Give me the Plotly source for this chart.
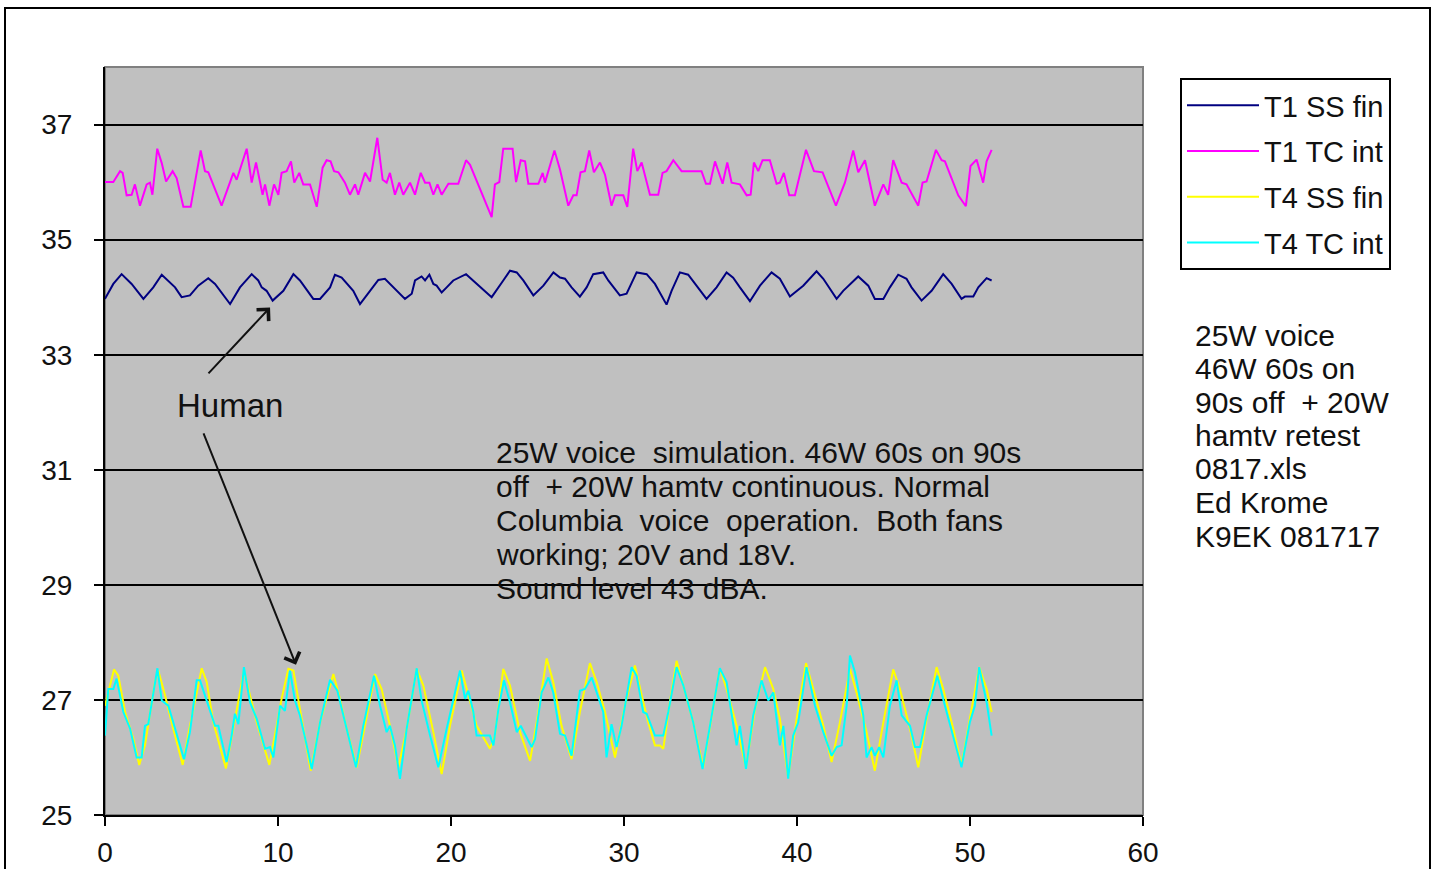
import plotly.graph_objects as go

# ---------------- data ----------------
t1_tc_x = [0.00, 0.48, 0.87, 1.02, 1.25, 1.54, 1.73, 2.02, 2.41, 2.60, 2.74, 3.02, 3.28, 3.53, 3.91, 4.14,
           4.53, 4.95, 5.53, 5.78, 5.97, 6.74, 7.42, 7.61, 8.19, 8.48, 8.73, 9.11, 9.25, 9.50, 9.77, 10.02,
           10.21, 10.50, 10.75, 10.94, 11.23, 11.46, 11.85, 12.24, 12.58, 12.81, 13.04, 13.24, 13.49, 13.87,
           14.16, 14.45, 14.64, 15.03, 15.32, 15.74, 16.05, 16.28, 16.47, 16.76, 17.01, 17.24, 17.63, 17.92,
           18.25, 18.50, 18.75, 18.98, 19.22, 19.46, 19.85, 20.42, 20.87, 21.10, 22.35, 22.54, 22.79, 23.02,
           23.56, 23.76, 24.03, 24.28, 24.47, 25.05, 25.30, 25.43, 25.98, 26.30, 26.78, 27.07, 27.26, 27.49,
           27.74, 27.99, 28.26, 28.61, 28.90, 29.28, 29.48, 29.96, 30.19, 30.53, 30.77, 31.02, 31.50, 31.98,
           32.23, 32.46, 32.85, 33.33, 34.48, 34.74, 34.97, 35.26, 35.70, 35.97, 36.22, 36.70, 37.09, 37.32,
           37.51, 37.76, 38.01, 38.43, 38.82, 39.01, 39.24, 39.55, 39.88, 40.52, 40.98, 41.48, 42.25, 42.77,
           43.25, 43.54, 43.93, 44.50, 44.99, 45.27, 45.56, 46.05, 46.33, 46.68, 47.01, 47.26, 47.49, 48.03,
           48.36, 48.55, 49.32, 49.76, 50.03, 50.38, 50.76, 50.96, 51.25]
t1_tc_y = [36.00, 36.00, 36.19, 36.16, 35.77, 35.78, 35.96, 35.59, 35.96, 35.99, 35.78, 36.58, 36.33, 36.01, 36.19, 36.07,
           35.57, 35.57, 36.55, 36.19, 36.17, 35.59, 36.16, 36.04, 36.58, 35.99, 36.34, 35.78, 35.96, 35.59, 35.96, 35.78,
           36.16, 36.19, 36.36, 35.99, 36.16, 35.96, 35.96, 35.57, 36.25, 36.38, 36.36, 36.19, 36.17, 35.99,
           35.78, 35.96, 35.78, 36.16, 36.01, 36.77, 36.04, 35.99, 36.16, 35.78, 35.99, 35.78, 35.99, 35.78,
           36.16, 35.99, 35.99, 35.78, 35.96, 35.78, 35.97, 35.97, 36.38, 36.30, 35.39, 35.96, 36.00, 36.58,
           36.58, 36.00, 36.38, 36.36, 35.97, 35.97, 36.16, 35.99, 36.55, 36.22, 35.59, 35.77, 35.77, 36.17,
           36.19, 36.55, 36.17, 36.34, 36.13, 35.59, 35.77, 35.77, 35.57, 36.58, 36.19, 36.34, 35.78, 35.78,
           36.16, 36.19, 36.38, 36.19, 36.19, 35.97, 35.97, 36.36, 35.97, 36.34, 35.99, 35.96, 35.77, 35.78,
           36.34, 36.19, 36.38, 36.38, 35.97, 35.99, 36.16, 35.77, 35.77, 36.56, 36.19, 36.17, 35.59, 35.99,
           36.55, 36.17, 36.38, 35.59, 35.96, 35.78, 36.38, 35.99, 35.96, 35.77, 35.59, 35.99, 36.01, 36.56,
           36.38, 36.36, 35.77, 35.58, 36.28, 36.39, 35.99, 36.36, 36.56]

t1_ss_x = [0.00, 0.48, 0.96, 1.54, 2.22, 2.79, 3.28, 3.66, 4.05, 4.43, 4.91, 5.39, 5.97, 6.36, 7.23, 7.80,
           8.48, 8.86, 9.06, 9.34, 9.69, 10.31, 10.89, 11.27, 12.04, 12.43, 13.01, 13.29, 13.68, 14.35, 14.74,
           15.32, 15.80, 16.18, 16.67, 17.34, 17.73, 17.92, 18.30, 18.50, 18.75, 18.98, 19.17, 19.46, 19.75,
           20.13, 20.87, 21.29, 22.35, 23.02, 23.41, 23.80, 24.18, 24.76, 25.34, 25.92, 26.30, 26.59, 26.97,
           27.45, 27.84, 28.22, 28.80, 29.09, 29.76, 30.15, 30.73, 31.31, 31.79, 32.46, 32.75, 33.23, 33.71,
           34.77, 35.35, 35.93, 36.31, 36.70, 37.28, 37.86, 38.53, 39.01, 39.59, 40.36, 41.13, 41.52, 42.29,
           42.67, 43.06, 43.54, 44.12, 44.50, 44.99, 45.37, 45.85, 46.33, 46.62, 47.20, 47.78, 48.45, 48.94,
           49.51, 49.71, 50.19, 50.48, 50.96, 51.25]
t1_ss_y = [33.97, 34.23, 34.40, 34.23, 33.97, 34.17, 34.39, 34.29, 34.17, 34.00, 34.03, 34.20, 34.33, 34.23, 33.88, 34.17,
           34.40, 34.29, 34.17, 34.11, 33.94, 34.11, 34.40, 34.29, 33.97, 33.97, 34.17, 34.39, 34.34, 34.11, 33.88,
           34.11, 34.30, 34.32, 34.17, 33.97, 34.06, 34.29, 34.36, 34.29, 34.39, 34.23, 34.20, 34.08, 34.17,
           34.29, 34.40, 34.29, 34.00, 34.29, 34.46, 34.43, 34.29, 34.03, 34.20, 34.43, 34.34, 34.32, 34.17,
           34.01, 34.17, 34.40, 34.43, 34.29, 34.03, 34.06, 34.43, 34.40, 34.23, 33.87, 34.11, 34.43, 34.39,
           33.97, 34.17, 34.43, 34.34, 34.17, 33.93, 34.20, 34.43, 34.32, 34.01, 34.20, 34.45, 34.32, 33.97,
           34.11, 34.23, 34.36, 34.20, 33.97, 33.97, 34.17, 34.39, 34.32, 34.17, 33.94, 34.11, 34.40, 34.23,
           33.97, 34.01, 34.01, 34.17, 34.33, 34.29]

t4_ss_x = [0.00, 0.52, 0.77, 1.16, 1.64, 1.98, 2.31, 2.89, 3.08, 3.47, 3.85, 4.49, 4.91, 5.59, 5.88, 6.26,
           6.99, 7.42, 8.03, 8.29, 8.77, 9.50, 9.83, 10.21, 10.60, 10.89, 11.27, 11.89, 12.43, 13.20, 13.49,
           13.97, 14.55, 15.03, 15.61, 15.99, 16.47, 16.96, 17.44, 18.02, 18.40, 18.98, 19.46, 19.94, 20.62,
           20.91, 21.48, 22.25, 22.54, 23.02, 23.41, 23.99, 24.57, 24.95, 25.53, 25.91, 26.39, 26.97, 27.45,
           28.03, 28.42, 28.90, 29.48, 30.05, 30.63, 31.02, 31.40, 31.79, 32.08, 32.27, 32.65, 33.04, 33.43,
           34.00, 34.58, 35.06, 35.54, 35.93, 36.51, 37.05, 37.57, 38.15, 38.63, 39.01, 39.49, 39.98, 40.52,
           40.94, 41.52, 42.00, 42.48, 43.06, 43.44, 44.02, 44.50, 44.99, 45.56, 45.95, 46.53, 47.01, 47.49,
           48.07, 48.45, 49.03, 49.51, 49.99, 50.53, 50.96, 51.25]
t4_ss_y = [26.90, 27.53, 27.42, 26.79, 26.32, 25.87, 26.21, 27.31, 27.51, 27.08, 26.61, 25.87, 26.55, 27.55, 27.31, 26.61,
           25.81, 26.50, 27.51, 27.19, 26.61, 25.87, 26.38, 27.02, 27.54, 27.51, 26.84, 25.77, 26.61, 27.45, 27.13,
           26.50, 25.83, 26.55, 27.45, 27.19, 26.55, 25.83, 26.50, 27.54, 27.25, 26.44, 25.71, 26.55, 27.51,
           27.19, 26.55, 26.15, 26.38, 27.54, 27.25, 26.44, 25.94, 26.61, 27.72, 27.31, 26.55, 25.97, 26.79,
           27.64, 27.31, 26.79, 26.00, 26.90, 27.60, 27.08, 26.61, 26.21, 26.21, 26.15, 26.96, 27.68, 27.25,
           26.61, 25.83, 26.73, 27.55, 27.19, 26.55, 25.83, 26.84, 27.57, 27.19, 26.67, 25.66, 26.67, 27.64,
           27.19, 26.55, 25.92, 26.61, 27.54, 27.13, 26.44, 25.77, 26.61, 27.53, 27.19, 26.50, 25.83, 26.67,
           27.57, 27.19, 26.50, 25.86, 26.67, 27.57, 27.19, 26.79]

t4_tc_x = [0.00, 0.19, 0.48, 0.67, 1.06, 1.45, 1.83, 2.12, 2.31, 2.50, 3.03, 3.28, 3.66, 4.05, 4.57, 4.91,
           5.30, 5.49, 5.88, 6.36, 6.55, 7.03, 7.32, 7.51, 7.71, 8.03, 8.38, 8.77, 9.25, 9.54, 9.73, 10.12,
           10.40, 10.69, 10.98, 11.27, 11.66, 11.95, 12.43, 13.01, 13.43, 13.97, 14.51, 14.93, 15.55, 15.90,
           16.28, 16.47, 16.76, 17.05, 17.44, 18.02, 18.30, 18.79, 19.27, 19.75, 20.52, 20.81, 21.00, 21.29,
           21.48, 22.06, 22.25, 22.45, 22.74, 23.06, 23.41, 23.80, 24.03, 24.66, 24.86, 25.24, 25.63, 25.91,
           26.30, 26.59, 26.97, 27.45, 27.74, 28.13, 28.51, 28.80, 28.99, 29.28, 29.57, 29.86, 30.44, 30.73,
           31.11, 31.31, 31.79, 32.27, 32.56, 33.04, 33.43, 34.00, 34.54, 35.06, 35.54, 35.93, 36.51, 36.70,
           37.05, 37.47, 37.95, 38.34, 38.63, 39.01, 39.21, 39.49, 39.78, 40.07, 40.55, 41.04, 41.52, 42.00,
           42.29, 42.58, 42.87, 43.06, 43.35, 43.83, 44.02, 44.31, 44.50, 44.75, 44.99, 45.37, 45.76, 46.05,
           46.53, 46.82, 47.11, 47.49, 48.11, 48.55, 49.03, 49.51, 49.99, 50.28, 50.53, 50.96, 51.25]
t4_tc_y = [26.38, 27.19, 27.19, 27.37, 26.79, 26.50, 26.00, 26.00, 26.55, 26.58, 27.55, 26.99, 26.90, 26.50, 25.97, 26.44,
           27.34, 27.34, 26.99, 26.55, 26.55, 25.92, 26.38, 26.76, 26.58, 27.57, 26.96, 26.67, 26.15, 26.18, 26.00, 26.90,
           26.81, 27.51, 26.99, 26.73, 26.21, 25.80, 26.61, 27.35, 27.16, 26.50, 25.83, 26.55, 27.42, 26.90,
           26.44, 26.55, 26.21, 25.63, 26.50, 27.55, 26.99, 26.38, 25.83, 26.50, 27.51, 27.02, 27.16, 26.79,
           26.38, 26.38, 26.38, 26.21, 26.84, 27.34, 26.96, 26.44, 26.55, 26.18, 26.32, 27.13, 27.39, 27.13,
           26.41, 26.38, 26.03, 27.16, 27.19, 27.39, 27.05, 26.79, 26.00, 26.58, 26.18, 26.55, 27.57, 27.42,
           26.79, 26.76, 26.38, 26.38, 26.79, 27.57, 27.25, 26.61, 25.80, 26.73, 27.55, 27.31, 26.21, 26.55,
           25.80, 26.73, 27.34, 26.99, 27.13, 26.21, 26.55, 25.63, 26.38, 26.61, 27.57, 26.90, 26.44, 26.03,
           26.18, 26.21, 26.90, 27.77, 27.48, 26.73, 26.00, 26.18, 26.03, 26.18, 26.00, 26.90, 27.34, 26.73,
           26.55, 26.18, 26.18, 26.73, 27.42, 26.90, 26.38, 25.83, 26.61, 26.90, 27.57, 26.96, 26.38]

series_names = ["T1 SS fin", "T1 TC int", "T4 SS fin", "T4 TC int"]
series_colors = ["#000080", "#FF00FF", "#FFFF00", "#00FFFF"]

x_ticks = [0, 10, 20, 30, 40, 50, 60]
y_ticks = [25, 27, 29, 31, 33, 35, 37]

note_lines = ["25W voice  simulation. 46W 60s on 90s",
              "off  + 20W hamtv continuous. Normal",
              "Columbia  voice  operation.  Both fans",
              "working; 20V and 18V.",
              "Sound level 43 dBA."]
side_lines = ["25W voice", "46W 60s on", "90s off  + 20W", "hamtv retest",
              "0817.xls", "Ed Krome", "K9EK 081717"]
label_text = "Human"

# ---------------- figure ----------------
FONT = "Liberation Sans, Arial, sans-serif"
TXT = "#111111"
fig = go.Figure()
xs = [t1_ss_x, t1_tc_x, t4_ss_x, t4_tc_x]
ys = [t1_ss_y, t1_tc_y, t4_ss_y, t4_tc_y]
for name, color, x, y in zip(series_names, series_colors, xs, ys):
    fig.add_trace(go.Scatter(x=x, y=y, mode="lines", name=name,
                             line=dict(color=color, width=2), legendgroup=name))

W, H = 1435, 869
# plot-area edges in page pixels
L, R, T, B = 105, 1143, 67, 815

def px_x(p):
    return (p - L) / (R - L)

def px_y(p):
    return (B - p) / (B - T)

fig.update_layout(
    width=W, height=H,
    margin=dict(l=L, r=W - R, t=T, b=H - B, pad=0, autoexpand=False),
    paper_bgcolor="white", plot_bgcolor="#C0C0C0",
    font=dict(family=FONT, size=28, color=TXT),
    showlegend=True,
    legend=dict(x=px_x(1180), y=px_y(78), xanchor="left", yanchor="top",
                bgcolor="white", bordercolor="black", borderwidth=2,
                font=dict(family=FONT, size=29, color=TXT),
                itemwidth=72, tracegroupgap=5, traceorder="grouped"),
    xaxis=dict(range=[0, 60], tickvals=x_ticks, showgrid=False, zeroline=False, automargin=False,
               showline=True, linecolor="black", linewidth=2,
               ticks="outside", ticklen=9, tickwidth=2, tickcolor="black",
               tickfont=dict(size=28), ticklabelstandoff=2),
    yaxis=dict(range=[25, 38], tickvals=y_ticks, showgrid=True, gridcolor="black", gridwidth=2,
               zeroline=False, automargin=False, showline=True, linecolor="black", linewidth=2,
               ticks="outside", ticklen=9, tickwidth=2, tickcolor="black",
               tickfont=dict(size=28), ticklabelstandoff=16),
)

# grey top/right plot border
fig.add_shape(type="rect", xref="paper", yref="paper", x0=0, x1=1, y0=0, y1=1,
              line=dict(color="#808080", width=2), layer="below")
# outer chart frame
fig.add_shape(type="rect", xref="paper", yref="paper",
              x0=px_x(5), x1=px_x(1430), y0=px_y(885), y1=px_y(8),
              line=dict(color="black", width=2))

# note block inside the plot
for i, line in enumerate(note_lines):
    fig.add_annotation(x=(494 - L) / 17.3, y=25 + (815 - (453 + 34 * i)) / 57.5, xref="x", yref="y",
                       text=line, showarrow=False, xanchor="left", yanchor="middle",
                       font=dict(size=30, family=FONT, color=TXT))

# side notes
for i, line in enumerate(side_lines):
    fig.add_annotation(x=px_x(1193), y=px_y(335 + 33.5 * i), xref="paper", yref="paper",
                       text=line, showarrow=False, xanchor="left", yanchor="middle",
                       font=dict(size=30, family=FONT, color=TXT))

# "Human" label and arrows
fig.add_annotation(x=(175 - L) / 17.3, y=25 + (815 - 406) / 57.5, xref="x", yref="y", text=label_text,
                   showarrow=False, xanchor="left", yanchor="middle",
                   font=dict(size=33, family=FONT, color=TXT))
fig.add_annotation(x=9.54, y=33.82, ax=5.9, ay=32.65, axref="x", ayref="y", xref="x", yref="y",
                   text="", showarrow=True, arrowhead=4, arrowsize=1.6, arrowwidth=2, arrowcolor=TXT)
fig.add_annotation(x=11.04, y=27.61, ax=5.66, ay=31.66, axref="x", ayref="y", xref="x", yref="y",
                   text="", showarrow=True, arrowhead=4, arrowsize=1.6, arrowwidth=2, arrowcolor=TXT)

page_fix = (
    "document.body.style.margin='0px';"
    "document.body.style.overflow='hidden';"
    "var gd=document.getElementsByClassName('plotly-graph-div')[0];"
    "gd.style.position='fixed';gd.style.left='0px';gd.style.top='0px';"
)
fig.write_html("out.html", config={"displayModeBar": False}, post_script=page_fix)
